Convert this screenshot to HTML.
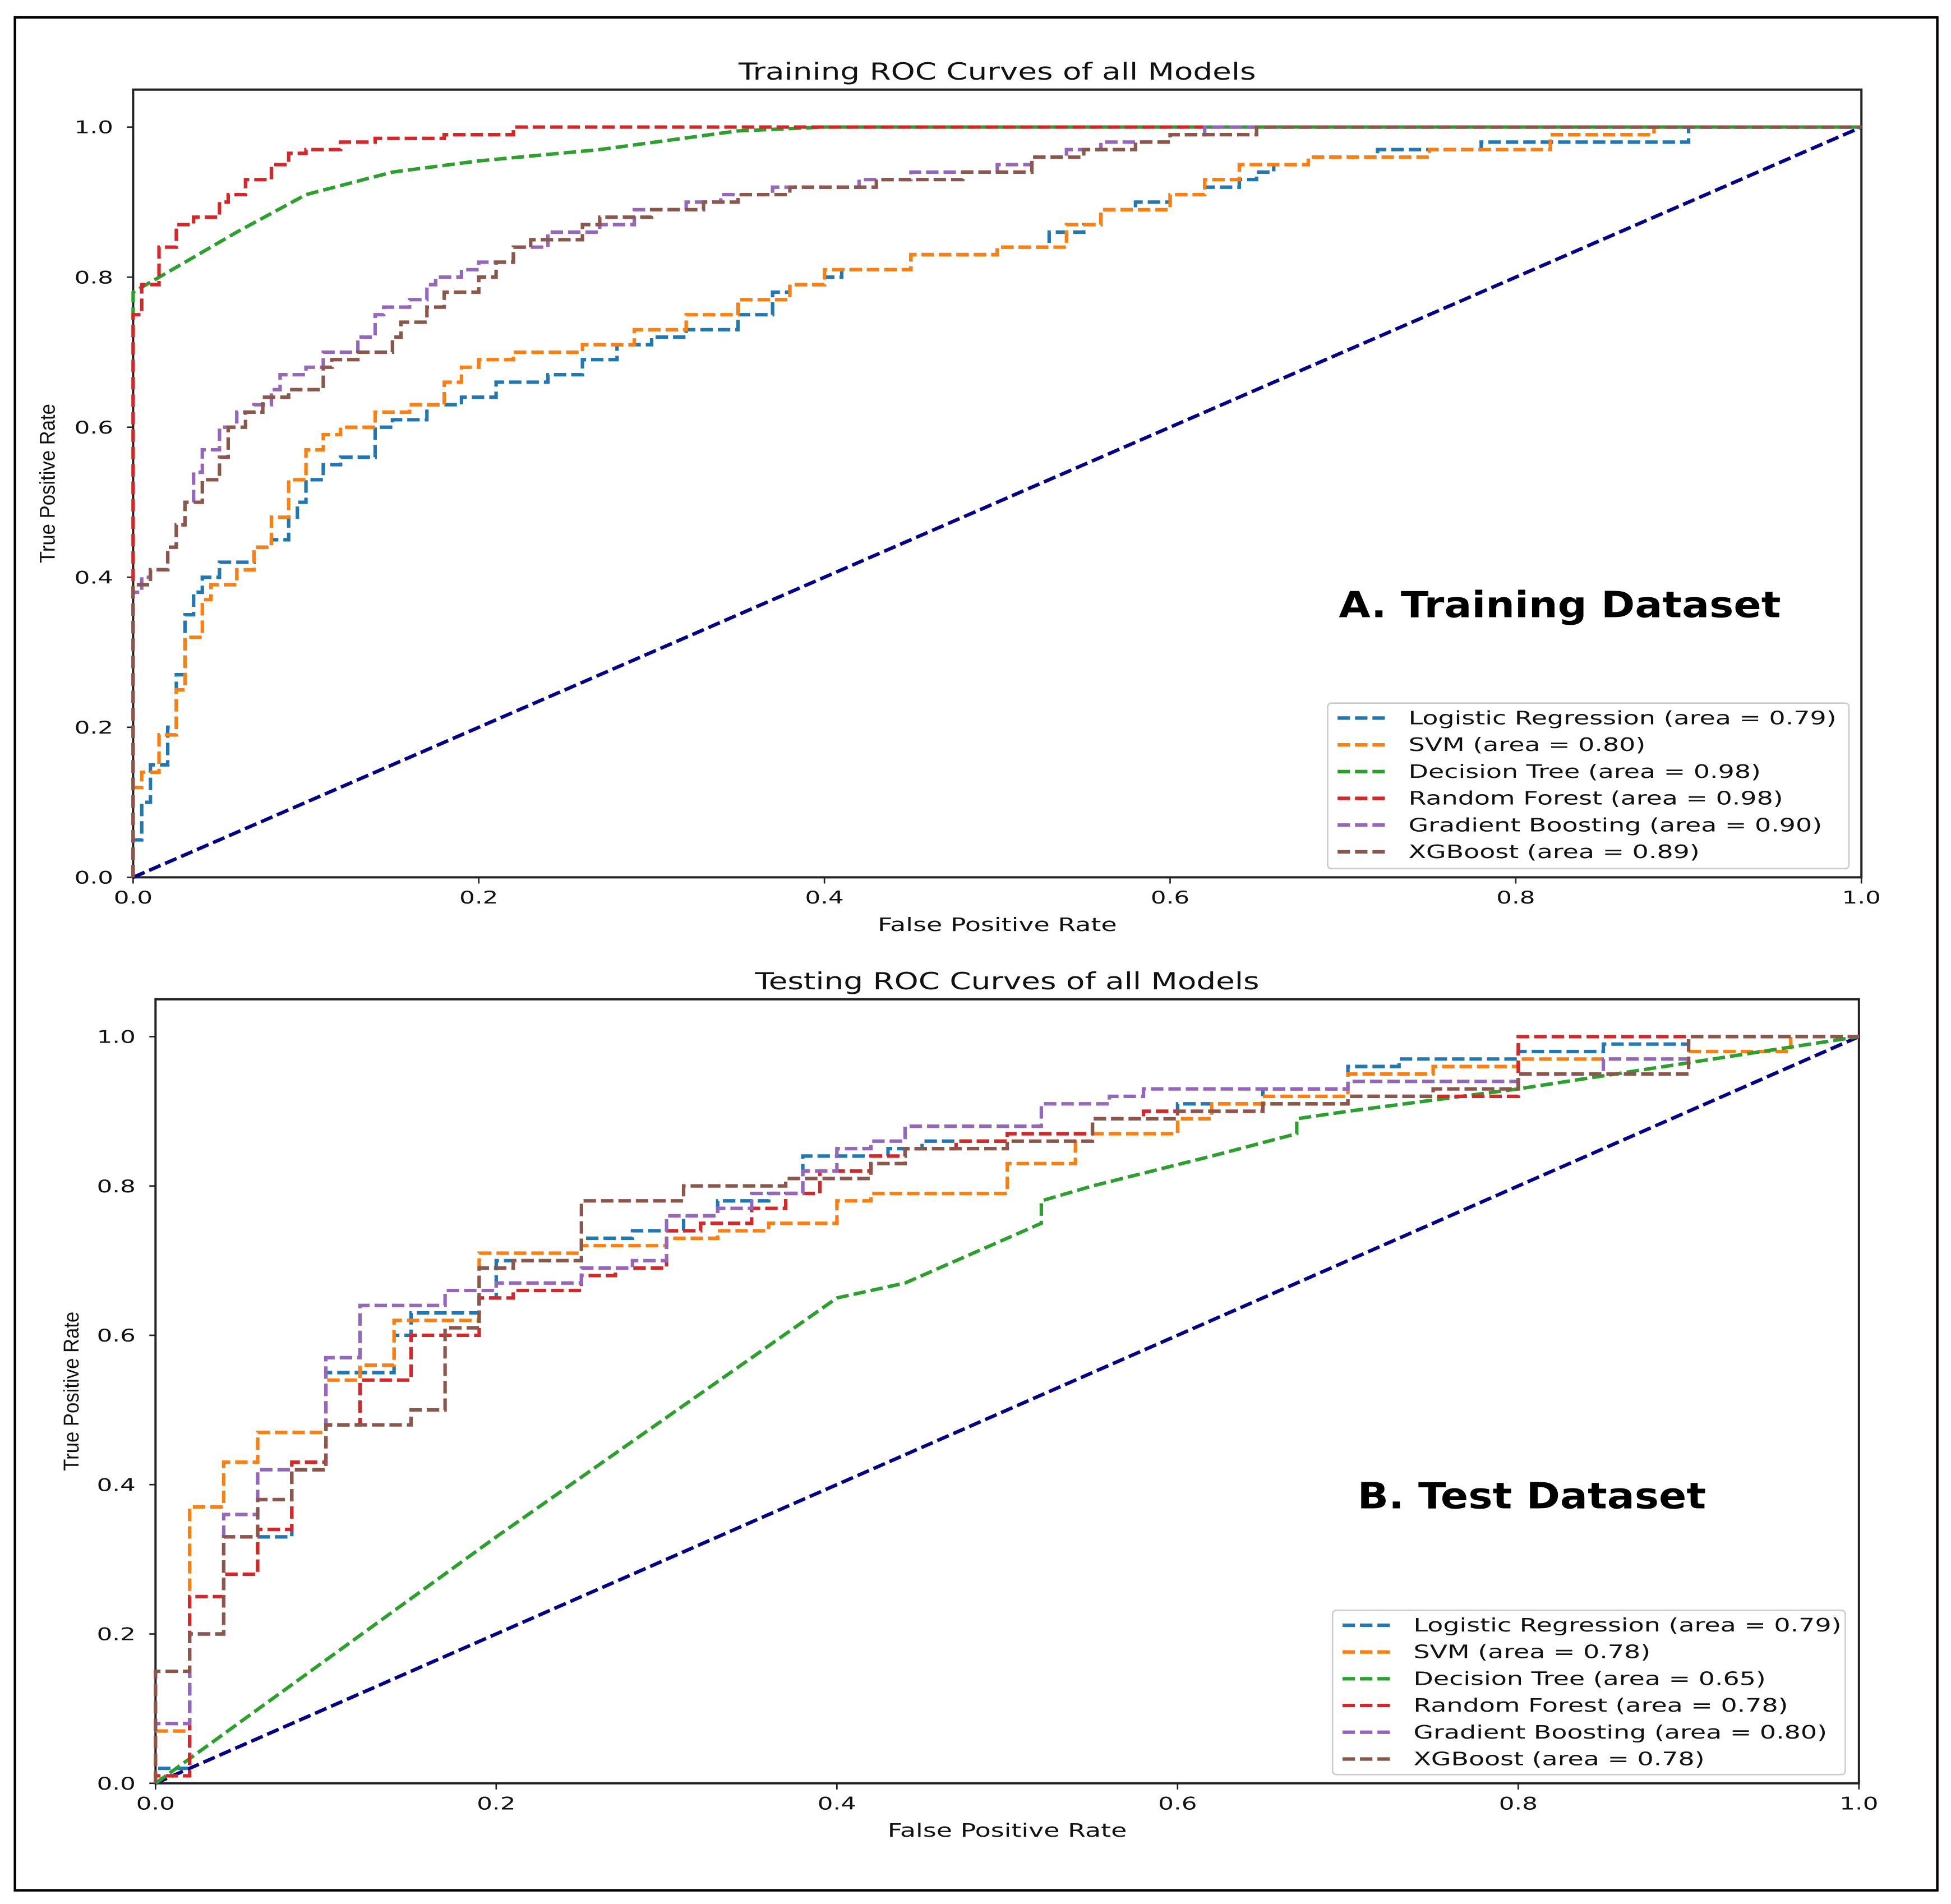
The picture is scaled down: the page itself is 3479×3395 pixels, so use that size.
<!DOCTYPE html>
<html><head><meta charset="utf-8"><style>
html,body{margin:0;padding:0;background:#fff;}
svg{display:block;font-family:"DejaVu Sans","Liberation Sans",sans-serif;}
</style></head><body>
<svg id="fig" width="3479" height="3395" viewBox="0 0 1568 1530" preserveAspectRatio="none">
<rect x="12" y="14" width="1545" height="1505" fill="#fff" stroke="#000" stroke-width="2"/>
<g id="pA"></g>
<g id="pB"></g>
</svg>
<script>
// ---- Training data ----
const trainLR_x=[0,0.005,0.01,0.02,0.025,0.03,0.035,0.04,0.05,0.07,0.08,0.09,0.095,0.1,0.11,0.12,0.14,0.14,0.15,0.17,0.19,0.21,0.24,0.26,0.28,0.3,0.32,0.35,0.37,0.38,0.4,0.41,0.45,0.5,0.53,0.55,0.56,0.58,0.6,0.62,0.64,0.65,0.66,0.68,0.72,0.78,0.9,0.94,1];
const trainLR_y=[0,0.05,0.1,0.15,0.2,0.27,0.35,0.38,0.4,0.42,0.44,0.45,0.48,0.5,0.53,0.55,0.56,0.59,0.6,0.61,0.63,0.64,0.66,0.67,0.69,0.71,0.72,0.73,0.75,0.78,0.79,0.8,0.81,0.83,0.84,0.86,0.87,0.89,0.9,0.91,0.92,0.93,0.94,0.95,0.96,0.97,0.98,1,1];
const trainSVM_x=[0,0.005,0.015,0.025,0.03,0.04,0.045,0.06,0.07,0.08,0.09,0.1,0.11,0.12,0.14,0.16,0.18,0.19,0.2,0.22,0.26,0.29,0.32,0.35,0.38,0.4,0.45,0.5,0.54,0.56,0.6,0.62,0.64,0.68,0.75,0.82,0.88,0.93,1];
const trainSVM_y=[0,0.12,0.14,0.19,0.25,0.32,0.37,0.39,0.41,0.44,0.48,0.53,0.57,0.59,0.6,0.62,0.63,0.66,0.68,0.69,0.7,0.71,0.73,0.75,0.77,0.79,0.81,0.83,0.84,0.87,0.89,0.91,0.93,0.95,0.96,0.97,0.99,1,1];
const trainDT_x=[0,0,0.03,0.06,0.1,0.15,0.2,0.27,0.35,0.4,1];
const trainDT_y=[0,0.78,0.82,0.86,0.91,0.94,0.955,0.97,0.995,1,1];
const trainRF_x=[0,0,0.005,0.015,0.025,0.035,0.05,0.055,0.065,0.08,0.09,0.1,0.12,0.14,0.18,0.22,0.27,1];
const trainRF_y=[0,0.68,0.75,0.79,0.84,0.87,0.88,0.9,0.91,0.93,0.95,0.965,0.97,0.98,0.985,0.99,1,1];
const trainGB_x=[0,0,0.005,0.01,0.02,0.025,0.03,0.035,0.04,0.05,0.06,0.07,0.08,0.085,0.1,0.11,0.13,0.14,0.145,0.16,0.17,0.175,0.19,0.2,0.22,0.24,0.27,0.29,0.32,0.34,0.37,0.42,0.45,0.5,0.52,0.54,0.56,0.6,0.62,0.7,1];
const trainGB_y=[0,0.32,0.38,0.4,0.41,0.44,0.47,0.5,0.54,0.57,0.6,0.62,0.63,0.65,0.67,0.68,0.7,0.72,0.75,0.76,0.77,0.79,0.8,0.81,0.82,0.84,0.86,0.87,0.89,0.9,0.91,0.92,0.93,0.94,0.95,0.96,0.97,0.98,0.99,1,1];
const trainXGB_x=[0,0,0.01,0.02,0.025,0.03,0.04,0.05,0.055,0.065,0.075,0.09,0.11,0.115,0.13,0.15,0.155,0.17,0.18,0.2,0.21,0.22,0.23,0.26,0.27,0.3,0.33,0.35,0.38,0.43,0.48,0.52,0.55,0.58,0.6,0.65,0.72,1];
const trainXGB_y=[0,0.37,0.39,0.41,0.44,0.47,0.5,0.53,0.56,0.6,0.62,0.64,0.65,0.68,0.69,0.7,0.72,0.74,0.76,0.78,0.8,0.82,0.84,0.85,0.87,0.88,0.89,0.9,0.91,0.92,0.93,0.94,0.96,0.97,0.98,0.99,1,1];
// ---- Testing data ----
const testLR_x=[0,0.02,0.02,0.04,0.04,0.06,0.08,0.08,0.1,0.1,0.13,0.14,0.15,0.19,0.2,0.25,0.28,0.31,0.33,0.36,0.38,0.4,0.43,0.45,0.5,0.55,0.58,0.6,0.65,0.7,0.73,0.8,0.85,0.9,1];
const testLR_y=[0,0.02,0.2,0.2,0.32,0.33,0.33,0.42,0.42,0.54,0.55,0.55,0.6,0.63,0.65,0.7,0.73,0.74,0.76,0.78,0.79,0.84,0.84,0.85,0.86,0.87,0.89,0.9,0.91,0.93,0.96,0.97,0.98,0.99,1];
const testSVM_x=[0,0,0.02,0.02,0.04,0.04,0.06,0.06,0.1,0.1,0.12,0.12,0.14,0.14,0.19,0.19,0.25,0.3,0.33,0.36,0.4,0.42,0.44,0.5,0.5,0.54,0.54,0.56,0.6,0.62,0.65,0.7,0.75,0.8,0.9,0.96,1];
const testSVM_y=[0,0.07,0.07,0.37,0.37,0.43,0.43,0.47,0.47,0.54,0.54,0.56,0.56,0.62,0.62,0.64,0.71,0.72,0.73,0.74,0.75,0.78,0.79,0.79,0.83,0.83,0.85,0.87,0.87,0.89,0.91,0.92,0.95,0.96,0.97,0.98,1];
const testDT_x=[0,0.2,0.4,0.44,0.52,0.52,0.55,0.62,0.67,0.67,0.7,0.8,1];
const testDT_y=[0,0.33,0.65,0.67,0.75,0.78,0.8,0.84,0.87,0.89,0.9,0.93,1];
const testRF_x=[0,0.02,0.02,0.04,0.04,0.06,0.06,0.08,0.08,0.1,0.1,0.12,0.12,0.15,0.15,0.17,0.19,0.21,0.25,0.27,0.3,0.32,0.35,0.37,0.39,0.42,0.44,0.47,0.5,0.55,0.58,0.6,0.65,0.7,0.75,0.8,0.8,1];
const testRF_y=[0,0.01,0.25,0.25,0.28,0.28,0.34,0.34,0.43,0.43,0.48,0.48,0.54,0.54,0.57,0.6,0.6,0.65,0.66,0.68,0.69,0.74,0.75,0.77,0.79,0.82,0.84,0.85,0.86,0.87,0.89,0.9,0.9,0.91,0.92,0.92,1,1];
const testGB_x=[0,0.02,0.02,0.04,0.04,0.06,0.06,0.08,0.1,0.1,0.12,0.12,0.17,0.2,0.25,0.28,0.3,0.33,0.35,0.38,0.4,0.42,0.44,0.48,0.52,0.54,0.56,0.58,0.6,0.7,0.75,0.8,0.85,0.9,1];
const testGB_y=[0.07,0.08,0.15,0.2,0.36,0.36,0.41,0.42,0.42,0.55,0.57,0.64,0.64,0.66,0.67,0.69,0.7,0.76,0.77,0.79,0.82,0.85,0.86,0.88,0.88,0.91,0.91,0.92,0.93,0.93,0.94,0.94,0.95,0.97,1];
const testXGB_x=[0,0,0.02,0.02,0.04,0.04,0.06,0.06,0.08,0.08,0.1,0.1,0.15,0.15,0.17,0.17,0.19,0.19,0.21,0.25,0.25,0.27,0.31,0.31,0.37,0.37,0.42,0.44,0.5,0.55,0.6,0.65,0.7,0.75,0.8,0.9,1];
const testXGB_y=[0,0.15,0.15,0.2,0.2,0.33,0.33,0.38,0.38,0.42,0.42,0.48,0.48,0.5,0.5,0.61,0.61,0.68,0.69,0.7,0.75,0.78,0.78,0.8,0.8,0.81,0.81,0.83,0.85,0.86,0.89,0.9,0.91,0.92,0.93,0.95,1];
const xTicks=[0,0.2,0.4,0.6,0.8,1.0];
const yTicks=[0,0.2,0.4,0.6,0.8,1.0];
const tickLabels=["0.0","0.2","0.4","0.6","0.8","1.0"];
const modelNames=["Logistic Regression","SVM","Decision Tree","Random Forest","Gradient Boosting","XGBoost"];
const trainAUC=["0.79","0.80","0.98","0.98","0.90","0.89"];
const testAUC=["0.79","0.78","0.65","0.78","0.80","0.78"];
const colors=["#1f77b4","#ff7f0e","#2ca02c","#d62728","#9467bd","#8c564b"];
const NS="http://www.w3.org/2000/svg";
function mk(tag,attrs,parent){const e=document.createElementNS(NS,tag);for(const k in attrs)e.setAttribute(k,attrs[k]);parent.appendChild(e);return e;}
function widen(el,k){const w=el.getComputedTextLength();if(w>0){el.setAttribute('textLength',(w*k).toFixed(1));el.setAttribute('lengthAdjust','spacingAndGlyphs');}}
function panel(g,P,series,aucs,title,big){
  const sx=v=>P.l+v*(P.r-P.l);
  const y1=P.b-(P.b-P.t)/1.05;
  const sy=v=>P.b-v*(P.b-y1);
  const f=mk('rect',{x:P.l,y:P.t,width:P.r-P.l,height:P.b-P.t,fill:'none',stroke:'#222','stroke-width':1.8},g);
  
  const t=mk('text',{x:(P.l+P.r)/2,y:P.t-8,'text-anchor':'middle','font-size':19,fill:'#111'},g);t.textContent=title;
  
  widen(t,1.3);
  xTicks.forEach((v,i)=>{mk('line',{x1:sx(v),x2:sx(v),y1:P.b,y2:P.b+5,stroke:'#222','stroke-width':1.2},g);
    const l=mk('text',{x:sx(v),y:P.b+21,'text-anchor':'middle','font-size':14,fill:'#111'},g);l.textContent=tickLabels[i];
    widen(l,1.4);});
  yTicks.forEach((v,i)=>{mk('line',{x1:P.l-5,x2:P.l,y1:sy(v),y2:sy(v),stroke:'#222','stroke-width':1.2},g);
    const l=mk('text',{x:P.l-16,y:sy(v)+5,'text-anchor':'end','font-size':14,fill:'#111'},g);l.textContent=tickLabels[i];
    widen(l,1.4);});
  const xl=mk('text',{x:(P.l+P.r)/2,y:P.b+43,'text-anchor':'middle','font-size':15,fill:'#111'},g);xl.textContent='False Positive Rate';
  widen(xl,1.38);
  const yc=(P.t+P.b)/2;
  const yl=mk('text',{x:P.ylx,y:yc,'text-anchor':'middle','font-size':17,fill:'#111',transform:`rotate(-90 ${P.ylx} ${yc})`,'font-family':'"Liberation Sans Narrow","Liberation Sans",sans-serif','textLength':128,'lengthAdjust':'spacingAndGlyphs'},g);yl.textContent='True Positive Rate';
  
  const d=mk('line',{x1:sx(0),y1:sy(0),x2:sx(1),y2:sy(1),stroke:'#00008b','stroke-width':2.8,'stroke-dasharray':'10,4'},g);
  
  series.forEach((s,i)=>{
    const xs=s[0],ys=s[1];let pts=[];
    for(let j=0;j<xs.length;j++){
      if(j>0&&i!==2){pts.push(sx(xs[j-1]).toFixed(1)+','+sy(ys[j]).toFixed(1));}
      pts.push(sx(xs[j]).toFixed(1)+','+sy(ys[j]).toFixed(1));
    }
    const p=mk('polyline',{points:pts.join(' '),fill:'none',stroke:colors[i],'stroke-width':2.8,'stroke-dasharray':'10,4'},g);
    });
  const L=P.leg;
  const lb=mk('rect',{x:L.x,y:L.y,width:L.w,height:L.h,fill:'#fff','fill-opacity':0.85,stroke:'#ccc','stroke-width':1.2,rx:3},g);
  
  modelNames.forEach((n,i)=>{const yy=L.y+12+i*21.5;
    mk('line',{x1:L.x+8,x2:L.x+46,y1:yy,y2:yy,stroke:colors[i],'stroke-width':2.8,'stroke-dasharray':'10,4'},g);
    const tx=mk('text',{x:L.x+65,y:yy+5,'font-size':15,fill:'#111'},g);tx.textContent=n+' (area = '+aucs[i]+')';
    widen(tx,1.38);});
  const bt=mk('text',{x:big.x,y:big.y,'font-size':29,'font-weight':'bold',fill:'#000'},g);bt.textContent=big.t;
  widen(bt,1.13);
}
panel(document.getElementById('pA'),{l:107,r:1496,t:72,b:705,ylx:44,leg:{x:1067,y:565,w:419,h:133}},
 [[trainLR_x,trainLR_y],[trainSVM_x,trainSVM_y],[trainDT_x,trainDT_y],[trainRF_x,trainRF_y],[trainGB_x,trainGB_y],[trainXGB_x,trainXGB_y]],
 trainAUC,'Training ROC Curves of all Models',{x:1076,y:496,t:'A. Training Dataset'});
panel(document.getElementById('pB'),{l:125,r:1494,t:803,b:1433,ylx:63,leg:{x:1071,y:1294,w:412,h:132}},
 [[testLR_x,testLR_y],[testSVM_x,testSVM_y],[testDT_x,testDT_y],[testRF_x,testRF_y],[testGB_x,testGB_y],[testXGB_x,testXGB_y]],
 testAUC,'Testing ROC Curves of all Models',{x:1091,y:1212,t:'B. Test Dataset'});
</script>
</body></html>
